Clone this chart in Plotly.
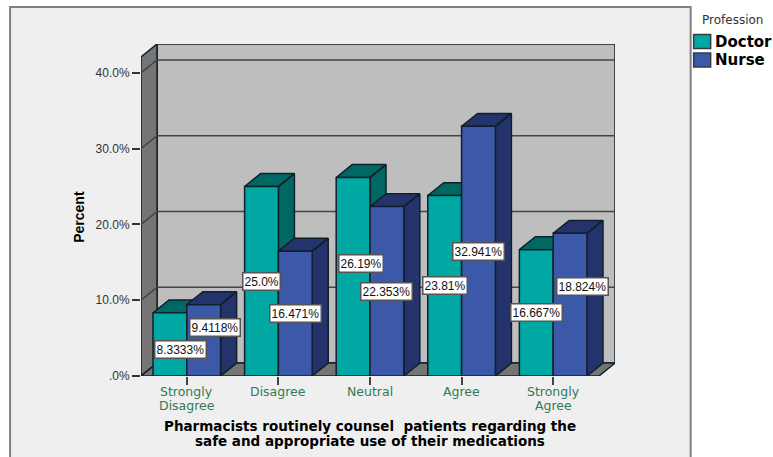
import plotly.graph_objects as go

categories = ["Strongly Disagree", "Disagree", "Neutral", "Agree", "Strongly Agree"]
doctor = [8.3333, 25.0, 26.19, 23.81, 16.667]
nurse = [9.4118, 16.471, 22.353, 32.941, 18.824]
doctor_labels = ["8.3333%", "25.0%", "26.19%", "23.81%", "16.667%"]
nurse_labels = ["9.4118%", "16.471%", "22.353%", "32.941%", "18.824%"]
y_ticks = [0, 10, 20, 30, 40]
y_tick_labels = [".0%", "10.0%", "20.0%", "30.0%", "40.0%"]

W, H = 773, 457
LEFT, RIGHT, TOP, BOTTOM = 141, 615.3, 44, 376.5

BAR_W = 0.369
DX, DY = 0.175, 1.7   # fake 3d depth in axis units
Y_TOP = 42.1
X0, X1 = -0.5, 4.5

DOCTOR_FRONT, DOCTOR_DARK = "#00a8a3", "#006862"
NURSE_FRONT, NURSE_DARK = "#3c58a9", "#24336b"
EDGE = "#10202a"
GREEN = "#2f7a58"

# labels SPSS moved off the bar centre to avoid overlaps, in pixels
doctor_nudge = {0: (11, -5), 2: (8, 13)}
nurse_nudge = {0: (11, 13), 4: (12, 18)}


def px(x):
    return (x - LEFT) / (RIGHT - LEFT)


def py(y):
    return (BOTTOM - y) / (BOTTOM - TOP)


def polygon(fig, xs, ys, color, line=EDGE, width=1.5):
    fig.add_trace(go.Scatter(x=xs, y=ys, mode="lines", fill="toself", fillcolor=color,
                             line=dict(color=line, width=width), cliponaxis=False,
                             hoverinfo="skip", showlegend=False))


def faces(values, offset):
    # side and top faces of every bar, worked out from the values
    xs, ys = [], []
    for i, v in enumerate(values):
        l = i + offset
        r = l + BAR_W
        xs += [r, r + DX, r + DX, r, r, None, l, l + DX, r + DX, r, l, None]
        ys += [0, DY, v + DY, v, 0, None, v, v + DY, v + DY, v, v, None]
    return xs, ys


fig = go.Figure()

# walls and floor
polygon(fig, [X0 + DX, X1 + DX, X1 + DX, X0 + DX, X0 + DX],
        [DY, DY, Y_TOP + DY, Y_TOP + DY, DY], "#bebebe")
polygon(fig, [X0, X0 + DX, X0 + DX, X0, X0],
        [0, DY, Y_TOP + DY, Y_TOP, 0], "#757575")
polygon(fig, [X0, X1, X1 + DX, X0 + DX, X0], [0, 0, DY, DY, 0], "#757575")

# gridlines
grid_x, grid_y = [], []
for t in y_ticks[1:]:
    grid_x += [X0, X0 + DX, X1 + DX, None]
    grid_y += [t, t + DY, t + DY, None]
fig.add_trace(go.Scatter(x=grid_x, y=grid_y, mode="lines", line=dict(color="#444444", width=1.5),
                         hoverinfo="skip", showlegend=False))

for values, offset, dark in [(doctor, -BAR_W, DOCTOR_DARK), (nurse, 0, NURSE_DARK)]:
    xs, ys = faces(values, offset)
    polygon(fig, xs, ys, dark)

# front faces sit on an overlaying axis pair so they cover the side faces
x_pos = list(range(len(categories)))
fig.add_trace(go.Bar(x=x_pos, y=doctor, name="Doctor", width=BAR_W, offset=-BAR_W,
                     marker=dict(color=DOCTOR_FRONT, line=dict(color=EDGE, width=1.5)),
                     cliponaxis=False, xaxis="x2", yaxis="y2"))
fig.add_trace(go.Bar(x=x_pos, y=nurse, name="Nurse", width=BAR_W, offset=0,
                     marker=dict(color=NURSE_FRONT, line=dict(color=EDGE, width=1.5)),
                     cliponaxis=False, xaxis="x2", yaxis="y2"))

annotations = []

# value labels
for values, labels, nudge, offset in [(doctor, doctor_labels, doctor_nudge, -BAR_W / 2),
                                      (nurse, nurse_labels, nurse_nudge, BAR_W / 2)]:
    for i, v in enumerate(values):
        sx, sy = nudge.get(i, (0, 0))
        annotations.append(dict(x=i + offset, y=v / 2, xref="x", yref="y", text=labels[i],
                                showarrow=False, xshift=sx, yshift=sy,
                                font=dict(family="Liberation Sans", size=12, color="#111111"),
                                bgcolor="white", bordercolor="#555555", borderwidth=1.5, borderpad=1))

# category labels, one annotation per line because of their tight leading
for i, name in enumerate(categories):
    for j, part in enumerate(name.split(" ")):
        annotations.append(dict(x=i, y=py(392 + j * 14), xref="x", yref="paper", text=part,
                                showarrow=False, yanchor="middle", borderpad=0,
                                font=dict(family="DejaVu Sans", size=12.5, color=GREEN)))

# axis titles
title_font = dict(family="DejaVu Sans", size=13.5, color="black", weight="bold")
for text, y in [("Pharmacists routinely counsel  patients regarding the", 426.5),
                ("safe and appropriate use of their medications", 441.5)]:
    annotations.append(dict(x=px(370), y=py(y), xref="paper", yref="paper", text=text,
                            showarrow=False, xanchor="center", yanchor="middle", borderpad=0, font=title_font))
annotations.append(dict(x=px(79), y=py(217), xref="paper", yref="paper", text="Percent", textangle=-90,
                        showarrow=False, xanchor="center", yanchor="middle",
                        font=dict(family="Liberation Sans", size=14, color="black", weight="bold")))

# legend
annotations.append(dict(x=px(733), y=py(20), xref="paper", yref="paper", text="Profession",
                        showarrow=False, xanchor="center", yanchor="middle",
                        font=dict(family="DejaVu Sans", size=12, color="#333333")))
shapes = [dict(type="rect", xref="paper", yref="paper", x0=px(10), x1=px(691), y0=py(7), y1=py(480),
               fillcolor="#efefef", line=dict(color="#808080", width=2), layer="below")]
for name, color, y in [("Doctor", DOCTOR_FRONT, 41.5), ("Nurse", NURSE_FRONT, 60)]:
    shapes.append(dict(type="rect", xref="paper", yref="paper", x0=px(694), x1=px(711), y0=py(y - 7), y1=py(y + 7),
                       fillcolor=color, line=dict(color="#333b44", width=1.5), layer="below"))
    annotations.append(dict(x=px(713), y=py(y + 0.5), xref="paper", yref="paper", text=name, xanchor="left",
                            showarrow=False, yanchor="middle",
                            font=dict(family="DejaVu Sans", size=15, color="black", weight="bold")))

x_range = [X0, X1 + DX]
y_range = [0, Y_TOP + DY]
fig.update_layout(
    width=W, height=H, showlegend=False, barmode="overlay",
    margin=dict(l=LEFT, r=W - RIGHT, t=TOP, b=H - BOTTOM, pad=0, autoexpand=False),
    paper_bgcolor="white", plot_bgcolor="rgba(0,0,0,0)",
    xaxis=dict(range=x_range, tickvals=x_pos, ticktext=categories, showticklabels=False, ticks="outside",
               ticklen=8, tickwidth=1.5, tickcolor="#444444", showgrid=False, zeroline=False, showline=False),
    yaxis=dict(range=y_range, tickvals=y_ticks, ticktext=y_tick_labels, ticks="outside", ticklen=8, tickwidth=1.5,
               tickcolor="#333333", showgrid=False, zeroline=False, showline=False,
               tickfont=dict(family="Liberation Sans", size=12, color="#333333")),
    xaxis2=dict(range=x_range, overlaying="x", visible=False),
    yaxis2=dict(range=y_range, overlaying="y", visible=False),
    annotations=annotations, shapes=shapes,
)

# the default body margin would push the fixed-size figure out of the window
fig.write_html("out.html", config={"displayModeBar": False},
               post_script="document.body.style.margin = '0'; document.body.style.overflow = 'hidden';")
